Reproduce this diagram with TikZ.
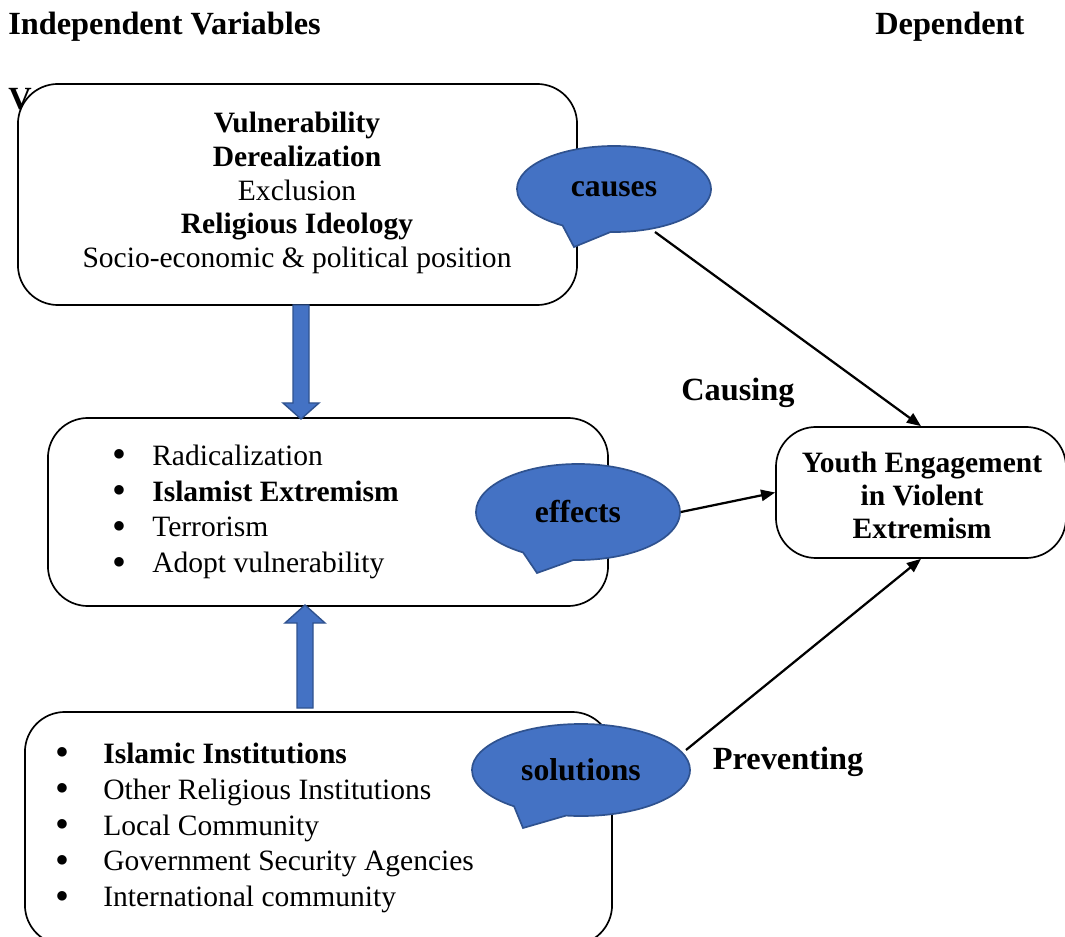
\documentclass[tikz,border=0pt]{standalone}
\usepackage{fontspec}
\setmainfont{Liberation Serif}
\usepackage{tikz}
\usetikzlibrary{shapes.callouts}
\usetikzlibrary{arrows.meta}

\definecolor{bubblefill}{HTML}{4472C4}
\definecolor{bubbleline}{HTML}{2F528F}
\newcommand{\bul}[1]{\makebox[#1][l]{\hspace{-1pt}\raisebox{-1.6pt}{\scalebox{1.35}{\textbullet}}}}

\begin{document}
\begin{tikzpicture}[x=0.025cm,y=-0.025cm,
    font=\fontsize{21}{24}\selectfont,
    box/.style={draw,line width=1.2pt,rounded corners=1cm,fill=white,inner sep=0pt},
    bubble/.style={ellipse callout,draw=bubbleline,line width=1.2pt,fill=bubblefill,
        callout pointer arc=30,inner sep=0pt,font=\fontsize{22.5}{24}\selectfont\bfseries},
    head/.style={inner sep=0pt,font=\fontsize{23}{24}\selectfont\bfseries},
    blockarrow/.style={draw=bubbleline,line width=1pt,fill=bubblefill},
    conn/.style={-{Triangle[length=10pt,width=8pt]},line width=1.6pt}]
    \useasboundingbox (0,0) rectangle (1065,937);
    % headings
    \node[head,anchor=west] (indep) at (8,27) {Independent Variables};
    \node[head,anchor=west] (dep) at (875,27) {Dependent};
    \node[head,anchor=west] (var) at (8,99) {V};
    % boxes
    \node[box,minimum width=13.975cm,minimum height=5.525cm] (top) at (297.5,194.5) {};
    \node[align=center,inner sep=0pt] (topText) at (297,193) {\textbf{Vulnerability}\\\textbf{Derealization}\\Exclusion\\\textbf{Religious Ideology}\\Socio-economic \& political position};
    \node[box,minimum width=14cm,minimum height=4.7cm] (mid) at (328,512) {};
    \node[anchor=west,align=left,inner sep=0pt,font=\fontsize{21}{25.5}\selectfont] (midText) at (114,512) {\bul{0.95cm}Radicalization\\\bul{0.95cm}\textbf{Islamist Extremism}\\\bul{0.95cm}Terrorism\\\bul{0.95cm}Adopt vulnerability};
    \node[box,minimum width=14.675cm,minimum height=5.825cm] (bot) at (318.5,828.5) {};
    \node[anchor=west,align=left,inner sep=0pt,font=\fontsize{21}{25.5}\selectfont] (botText) at (57,828) {\bul{1.15cm}\textbf{Islamic Institutions}\\\bul{1.15cm}Other Religious Institutions\\\bul{1.15cm}Local Community\\\bul{1.15cm}Government Security Agencies\\\bul{1.15cm}International community};
    \node[box,minimum width=7.25cm,minimum height=3.275cm] (youth) at (921,492.5) {};
    \node[align=center,inner sep=0pt,font=\fontsize{21}{23.5}\selectfont\bfseries] (youthText) at (922,495) {Youth Engagement\\in Violent\\Extremism};
    % block arrows
    \draw[blockarrow] (293,305) -- (309,305) -- (309,403) -- (319,403) -- (301,419) -- (283,403) -- (293,403) -- cycle;
    \draw[blockarrow] (297,708) -- (313,708) -- (313,623) -- (325,623) -- (305,605) -- (285,623) -- (297,623) -- cycle;
    % labels
    \node[head] (causing) at (738,393) {Causing};
    \node[head] (preventing) at (788,762) {Preventing};
    % callouts
    \coordinate (causesStart) at (655,232);
    \coordinate (solStart) at (686,750);
    \draw[conn] (causesStart) -- (youth.north);
    \draw[conn] (solStart) -- (youth.south);
    \node[bubble,minimum width=4.85cm,minimum height=2.15cm,callout absolute pointer={(574,247)}] (causes) at (614,189) {causes};
    \node[bubble,minimum width=5.1cm,minimum height=2.4cm,callout absolute pointer={(537,573)}] (effects) at (578,512) {effects};
    \node[bubble,minimum width=5.45cm,minimum height=2.3cm,callout absolute pointer={(523,828)}] (solutions) at (581,770) {solutions};
    \draw[conn] (effects.east) -- (youth.west);
\end{tikzpicture}
\end{document}
